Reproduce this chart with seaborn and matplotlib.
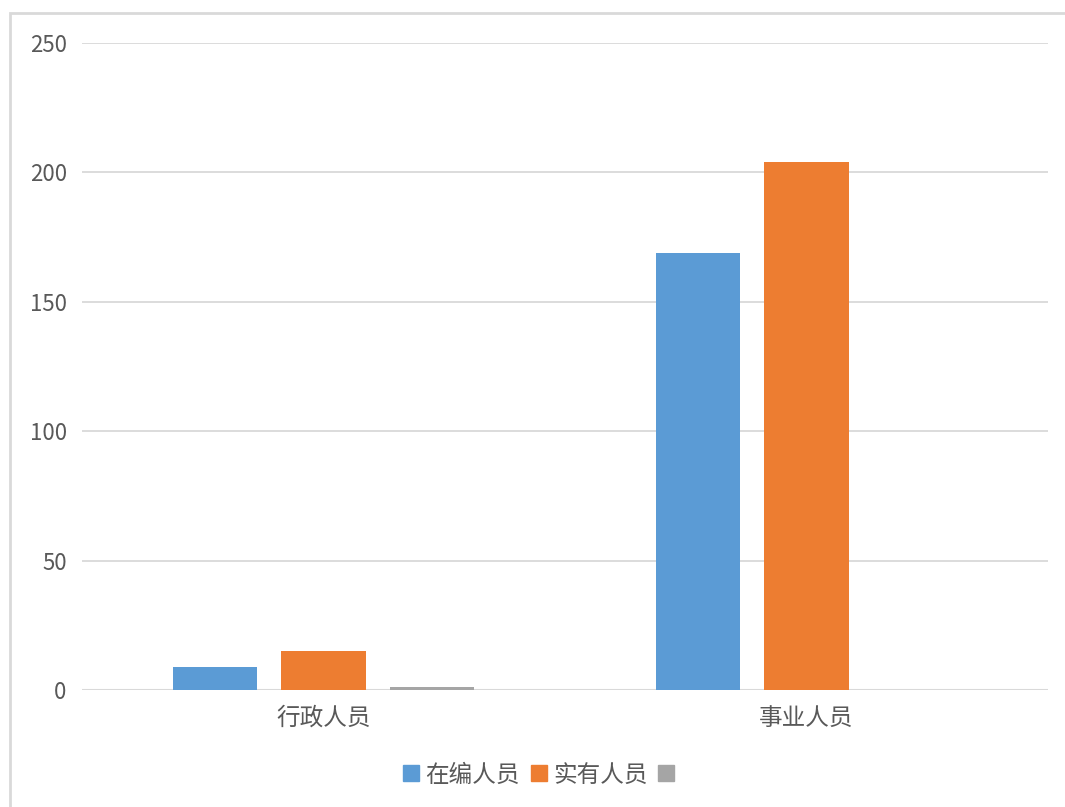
import matplotlib
matplotlib.use("Agg")
import matplotlib.pyplot as plt
import seaborn as sns
import pandas as pd
from matplotlib.lines import Line2D
from matplotlib.patches import Rectangle

categories = ["行政人员", "事业人员"]
series_names = ["在编人员", "实有人员", "系列3"]
series_labels = ["在编人员", "实有人员", ""]
values_bianzhi = [9, 169]
values_shiyou = [15, 204]
values_s3 = [1, 0]
yticks = [0, 50, 100, 150, 200, 250]
colors = ["#5B9BD5", "#ED7D31", "#A5A5A5"]

rows = []
for name, vals in zip(series_names, [values_bianzhi, values_shiyou, values_s3]):
    for c, v in zip(categories, vals):
        rows.append({"类别": c, "系列": name, "值": v})
df = pd.DataFrame(rows)

sns.set_theme(style="white")
plt.rcParams["font.family"] = ["Noto Sans CJK SC", "DejaVu Sans"]

fig = plt.figure(figsize=(10.65, 8.07), dpi=100)
ax = fig.add_axes([82/1065, (807-690)/807, (1048-82)/1065, (690-43)/807])

sns.barplot(data=df, x="类别", y="值", hue="系列", order=categories,
            hue_order=series_names, palette=colors, width=0.671, gap=0.222,
            saturation=1, legend=False, ax=ax, errorbar=None, linewidth=0)

ax.set_ylim(0, 250)
ax.set_xlim(-0.5, 1.5)
ax.set_yticks(yticks)
ax.set_yticklabels([str(t) for t in yticks])
ax.grid(axis="y", color="#D9D9D9", linewidth=1.3)
ax.set_axisbelow(True)
for s in ax.spines.values():
    s.set_visible(False)
ax.axhline(0, color="#D9D9D9", linewidth=1.5, zorder=0.5)
ax.set_xlabel("")
ax.set_ylabel("")
ax.tick_params(axis="y", length=0, pad=11, labelsize=16, labelcolor="#595959")
ax.tick_params(axis="x", length=0, pad=12, labelsize=17, labelcolor="#595959")

handles = [Line2D([0], [0], marker="s", linestyle="none", markersize=11,
                  markerfacecolor=c, markeredgecolor=c) for c in colors]
fig.legend(handles, series_labels, loc="center", bbox_to_anchor=(540/1065, 1-775/807),
           ncol=3, frameon=False, fontsize=17, labelcolor="#595959",
           handletextpad=0.1, columnspacing=0.3, handlelength=1.0)

fig.patches.append(Rectangle((10/1065, -0.02), 1.0, 0.02 + 1 - 13/807,
                             transform=fig.transFigure, fill=False,
                             edgecolor="#D9D9D9", linewidth=2, figure=fig))

fig.savefig("out.png", dpi=100)
